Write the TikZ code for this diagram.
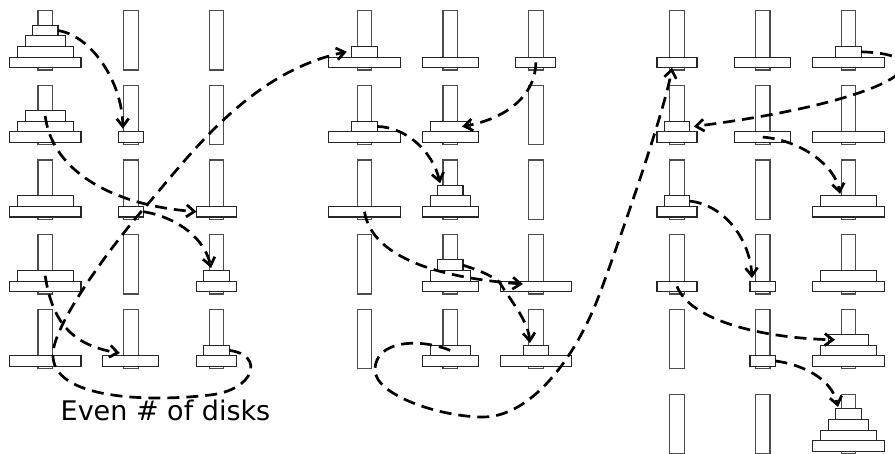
\documentclass[tikz,border=0pt]{standalone}
\usepackage{fontspec}
\setmainfont{DejaVu Sans}
\usetikzlibrary{arrows.meta}
\tikzset{
  pole/.style={draw=black!70, fill=white, line width=1.1pt, minimum width=14.5pt,
    minimum height=59.3pt, inner sep=0pt, outer sep=0pt},
  disk/.style={draw=black!85, fill=white, line width=1.1pt, minimum height=10.6pt,
    inner sep=0pt, outer sep=0pt},
  diskmove/.style={line width=2.7pt, dash pattern=on 12pt off 7pt,
    -{Straight Barb[length=8pt,width=12pt]}},
}
% one peg with its disks, listed from the bottom (0 = no disk)
% #1 state, #2 peg letter, #3 x, #4 top of peg, #5 disks
\newcommand\hanoipeg[5]{%
  \node[pole] (s#1p#2) at (#3,#4+29.65) {};
  \foreach \d [count=\j from 0] in {#5} {
    \ifnum\d>0
      \pgfmathsetmacro\dwid{{25.5,40,56,71.5}[\d-1]}
      \node[disk, minimum width=\dwid pt] (s#1d\d) at (#3,{#4+51.7-10.6*\j}) {};
    \fi
  }%
}
% one configuration: #1 state, #2 x of first peg, #3 top, #4-#6 pegs A, B, C
\newcommand\hanoistate[6]{%
  \hanoipeg{#1}{A}{#2}{#3}{#4}%
  \hanoipeg{#1}{B}{#2+85.7}{#3}{#5}%
  \hanoipeg{#1}{C}{#2+171.4}{#3}{#6}%
}
\begin{document}
\begin{tikzpicture}[x=1pt, y=-1pt]
\useasboundingbox (0,0) rectangle (895,454);
\clip (0,0) rectangle (895,454);

% first column of configurations
\hanoistate{0}{45.2}{10.7}{4,3,2,1}{0}{0}
\hanoistate{1}{45.2}{85.4}{4,3,2}{1}{0}
\hanoistate{2}{45.2}{160}{4,3}{1}{2}
\hanoistate{3}{45.2}{234.7}{4,3}{0}{2,1}
\hanoistate{4}{45.2}{309.3}{4}{3}{2,1}
% second column
\hanoistate{5}{364.5}{10.7}{4,1}{3}{2}
\hanoistate{6}{364.5}{85.4}{4,1}{3,2}{0}
\hanoistate{7}{364.5}{160}{4}{3,2,1}{0}
\hanoistate{8}{364.5}{234.7}{0}{3,2,1}{4}
\hanoistate{9}{364.5}{309.3}{0}{3,2}{4,1}
% third column
\hanoistate{10}{677}{10.7}{2}{3}{4,1}
\hanoistate{11}{677}{85.4}{2,1}{3}{4}
\hanoistate{12}{677}{160}{2,1}{0}{4,3}
\hanoistate{13}{677}{234.7}{2}{1}{4,3}
\hanoistate{14}{677}{309.3}{0}{1}{4,3,2}
\hanoistate{15}{677}{394.3}{0}{0}{4,3,2,1}

% moves
\draw[diskmove] (s0d1.east) .. controls (90,35) and (122,80) .. ([xshift=-8pt,yshift=3pt]s1d1.north);
\draw[diskmove] (s1d2.center) .. controls (52,170) and (110,205) .. (s2d2.west);
\draw[diskmove] (s2d1.east) .. controls (180,218) and (205,240) .. ([xshift=-5.5pt,yshift=2.5pt]s3d1.north);
\draw[diskmove] (s3d3.center) .. controls (52,320) and (70,345) .. ([xshift=-11pt,yshift=2.7pt]s4d3.north);
\draw[diskmove] (s4d1.east) .. controls (265,355) and (255,390) .. (210,395)
  .. controls (150,402) and (50,400) .. (53,353)
  .. controls (55,320) and (120,235) .. (147,205)
  .. controls (190,155) and (250,72) .. ([xshift=-5pt]s5d1.west);
\draw[diskmove] (s5d2.center) .. controls (535,100) and (500,120) .. ([xshift=-8pt]s6d2.east);
\draw[diskmove] (s6d1.east) .. controls (405,127) and (432,150) .. ([xshift=-10pt,yshift=2pt]s7d1.north);
\draw[diskmove] (s7d4.center) .. controls (372,258) and (440,278) .. ([xshift=-13pt,yshift=2.4pt]s8d4.center);
\draw[diskmove] (s8d1.east) .. controls (485,272) and (497,279) .. (500,283)
  .. controls (510,300) and (528,320) .. ([xshift=-6pt,yshift=2pt]s9d1.north);
\draw[diskmove] (s9d2.center) .. controls (420,338) and (375,340) .. (375,370)
  .. controls (375,395) and (440,417) .. (483,417)
  .. controls (530,417) and (575,360) .. (600,293)
  .. controls (620,239) and (665,110) .. ([xshift=-5pt]s10d2.south);
\draw[diskmove] (s10d1.east) .. controls (950,55) and (900,100) .. ([xshift=4pt]s11d1.east);
\draw[diskmove] (s11d3.center) .. controls (800,140) and (835,165) .. ([xshift=-8.4pt,yshift=2pt]s12d3.north);
\draw[diskmove] (s12d1.east) .. controls (725,205) and (750,240) .. ([xshift=-10.7pt,yshift=3pt]s13d1.north);
\draw[diskmove] (s13d2.center) .. controls (690,320) and (760,338) .. ([xshift=6.6pt]s14d2.west);
\draw[diskmove] (s14d1.east) .. controls (805,365) and (832,380) .. ([xshift=-10.4pt,yshift=2pt]s15d1.north);

\node[anchor=base west, inner sep=0pt, font=\fontsize{27}{32}\selectfont] (caption) at (60.5,420.7) {Even \# of disks};
\end{tikzpicture}
\end{document}
